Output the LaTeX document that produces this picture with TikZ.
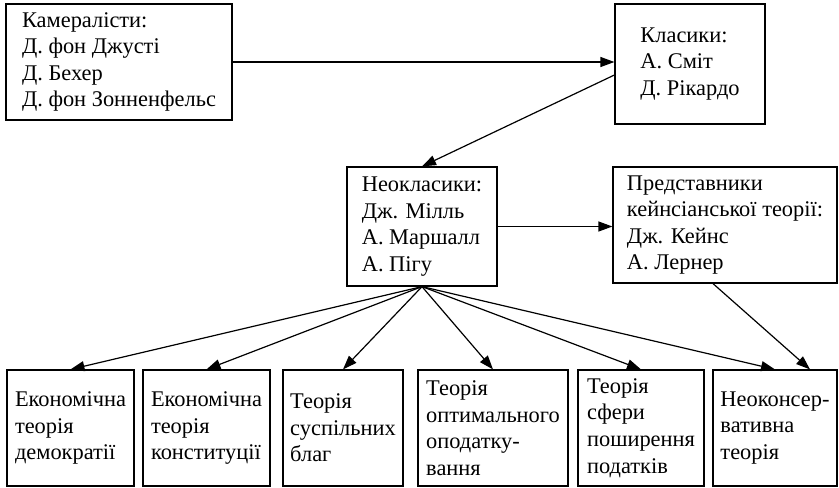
\documentclass[tikz,border=0pt]{standalone}
\usepackage{fontspec}
\setmainfont{Liberation Serif}
\usetikzlibrary{arrows.meta}

\begin{document}
\begin{tikzpicture}[x=0.5pt,y=-0.5pt,line width=0.6pt,
	ramka/.style={draw,align=left,inner sep=0pt,minimum height=58pt,font=\fontsize{11.2}{13.3}\selectfont},
	>={Triangle[length=7pt,width=5pt]}]
			\useasboundingbox (0,0) rectangle (839,487);
			% top row
			\node[ramka,minimum width=113pt] (kam) at (119,62) {Камералісти:\\Д. фон Джусті\\Д. Бехер\\Д. фон Зонненфельс};
			\node[ramka,minimum width=75pt,minimum height=60pt] (klas) at (690,64) {Класики:\\А. Сміт\\Д. Рікардо};
			% middle row
			\node[ramka,minimum width=75pt,minimum height=59.5pt] (neo) at (422,226.5) {Неокласики:\\Дж. Мілль\\А. Маршалл\\А. Пігу};
			\node[ramka,minimum width=112pt] (keyn) at (725,225) {Представники\\кейнсіанської теорії:\\Дж. Кейнс\\А. Лернер};
			% bottom row
			\node[ramka,minimum width=63.5pt] (demo) at (70.5,428) {Економічна\\теорія\\демократії};
			\node[ramka,minimum width=63.5pt] (konst) at (206.5,428) {Економічна\\теорія\\конституції};
			\node[ramka,minimum width=60pt] (blag) at (343,428) {Теорія\\суспільних\\благ};
			\node[ramka,minimum width=75pt] (opod) at (493,428) {Теорія\\оптимального\\оподатку-\\вання};
			\node[ramka,minimum width=63pt] (sfer) at (641,428) {Теорія\\сфери\\поширення\\податків};
			\node[ramka,minimum width=62pt] (neokons) at (775,428) {Неоконсер-\\вативна\\теорія};
			% arrows
			\draw [->] (kam.east) -- (kam.east -| klas.west);
			\draw [->] ([yshift=-5.5pt]klas.west) -- (neo.north);
			\draw [->] (neo.east) -- (neo.east -| keyn.west);
			\draw [->] (neo.south) -- (demo.north);
			\draw [->] (neo.south) -- (konst.north);
			\draw [->] (neo.south) -- (blag.north);
			\draw [->] (neo.south) -- (opod.north);
			\draw [->] (neo.south) -- (sfer.north);
			\draw [->] (neo.south) -- (neokons.north);
			\draw [->] ([xshift=-6pt]keyn.south) -- ([xshift=17.5pt]neokons.north);
		\end{tikzpicture}
\end{document}
